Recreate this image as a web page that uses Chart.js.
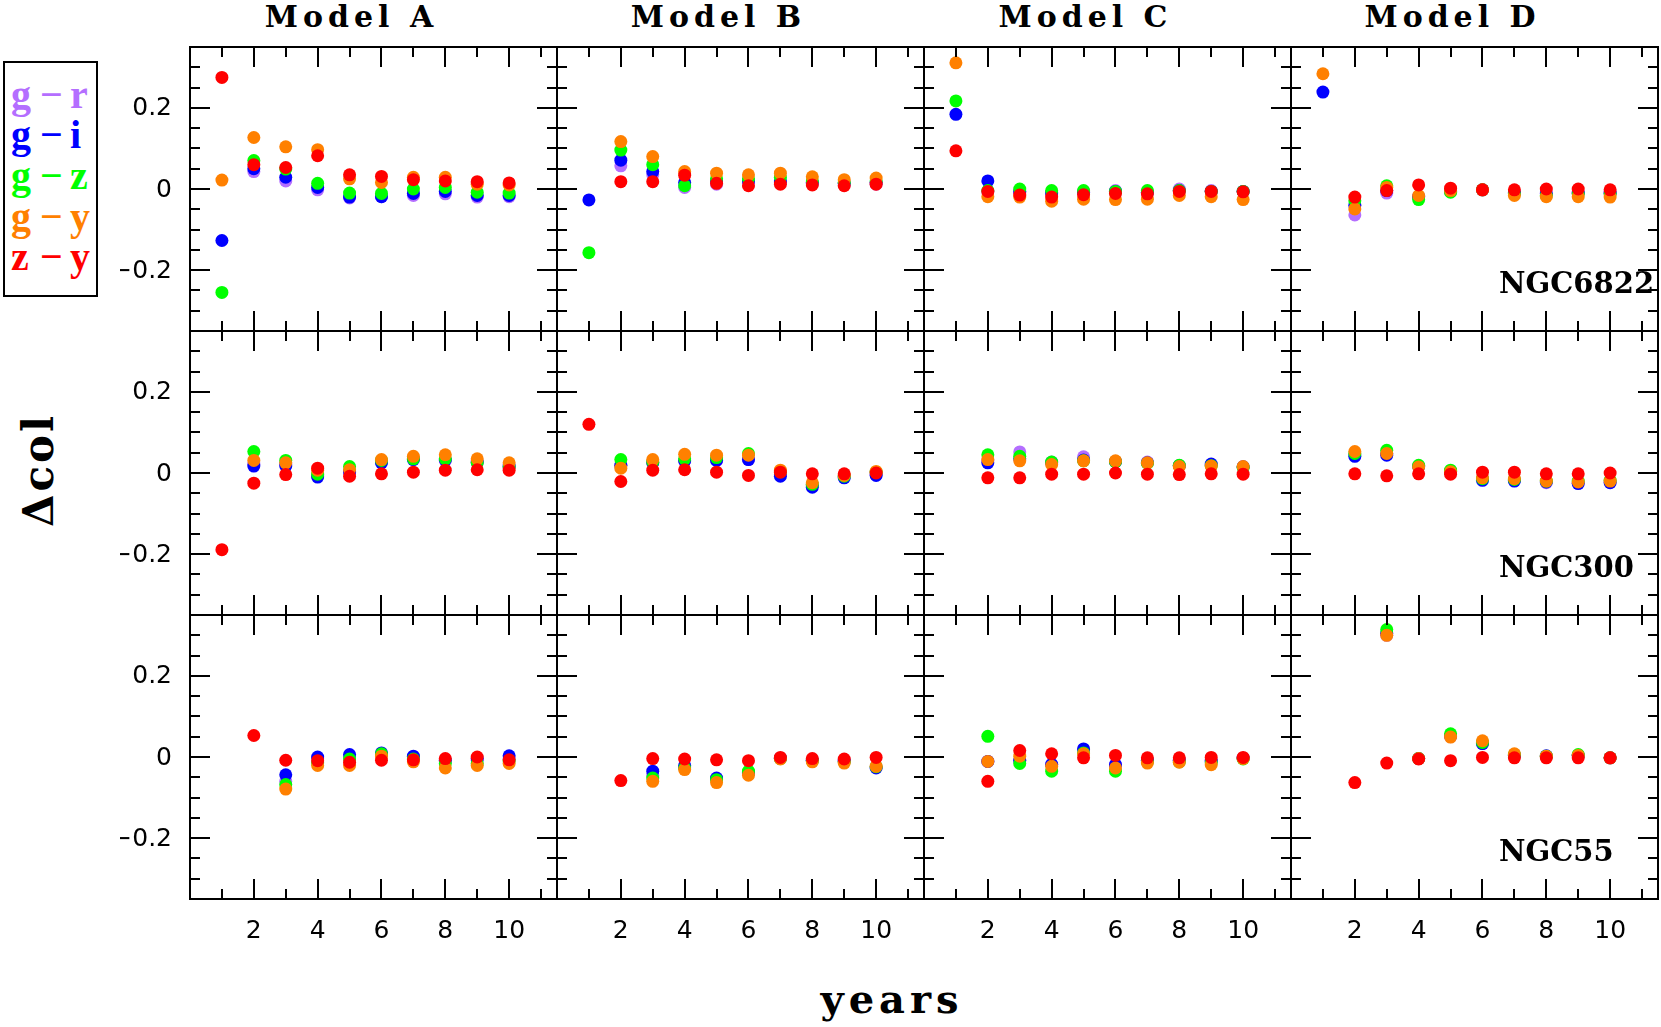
<!DOCTYPE html>
<html>
<head>
<meta charset="utf-8">
<script src="https://cdn.jsdelivr.net/npm/chart.js@4.4.1/dist/chart.umd.min.js"></script>
<style>
  html, body { margin: 0; padding: 0; background: #fff; overflow: hidden; }
  #figure { position: relative; width: 1661px; height: 1027px; background: #fff; }
  #figure canvas { position: absolute; }
  .txt { position: absolute; height: 0; white-space: nowrap; color: #000; }
  .title { font: bold 30px "DejaVu Serif"; line-height: 0; letter-spacing: 5px; width: 300px; text-align: center; }
  #ylabel { position: absolute; left: 38px; top: 470px; font: bold 42px "DejaVu Serif"; letter-spacing: 3px;
            transform: translate(-50%, -50%) rotate(-90deg); white-space: nowrap; }
  #xlabel { font: bold 40px "DejaVu Serif"; line-height: 0; letter-spacing: 5px; width: 400px; text-align: center; }
  #legend { position: absolute; left: 3px; top: 61px; width: 95px; height: 236px; border: 2px solid #000; box-sizing: border-box; }
  .leg { font: bold 40px "Liberation Serif"; line-height: 0; }
</style>
</head>
<body>
<div id="figure"></div>
<script>
const years = [1, 2, 3, 4, 5, 6, 7, 8, 9, 10];
const models = ['Model A', 'Model B', 'Model C', 'Model D'];
const galaxies = ['NGC6822', 'NGC300', 'NGC55'];
const colourNames = [['g', 'r'], ['g', 'i'], ['g', 'z'], ['g', 'y'], ['z', 'y']];
const colours = ['#b46eff', '#0000ff', '#00ff00', '#ff8000', '#ff0000'];
const yTickValues = [-0.2, 0, 0.2];
const yTickLabels = ['\u22120.2', '0', '0.2'];
const xTickValues = [2, 4, 6, 8, 10];
const xTickLabels = ['2', '4', '6', '8', '10'];

// each array: one row per model (A, B, C, D), one value per year
const gr_NGC6822 = [
  [null, 0.043, 0.020, -0.002, -0.022, -0.019, -0.016, -0.012, -0.020, -0.019],
  [null, 0.057, 0.035, 0.004, 0.012, 0.014, 0.016, 0.014, 0.010, 0.012],
  [null, -0.006, -0.008, -0.012, -0.006, -0.004, -0.008, 0.000, -0.004, -0.006],
  [null, -0.064, -0.010, -0.018, -0.006, -0.002, -0.010, -0.010, -0.010, -0.010]
];
const gi_NGC6822 = [
  [-0.127, 0.050, 0.029, 0.004, -0.020, -0.019, -0.011, -0.006, -0.016, -0.016],
  [-0.027, 0.071, 0.043, 0.016, 0.020, 0.020, 0.020, 0.016, 0.014, 0.016],
  [0.184, 0.020, -0.006, -0.010, -0.008, -0.006, -0.008, -0.004, -0.006, -0.006],
  [0.239, -0.040, -0.004, -0.020, -0.006, -0.002, -0.010, -0.012, -0.010, -0.010]
];
const gz_NGC6822 = [
  [-0.255, 0.070, 0.049, 0.014, -0.010, -0.011, 0.000, 0.004, -0.008, -0.010],
  [-0.157, 0.096, 0.060, 0.008, 0.025, 0.025, 0.029, 0.020, 0.016, 0.020],
  [0.217, -0.004, 0.000, -0.004, -0.004, -0.006, -0.004, -0.004, -0.006, -0.006],
  [null, -0.029, 0.008, -0.026, -0.008, -0.002, -0.012, -0.016, -0.012, -0.012]
];
const gy_NGC6822 = [
  [0.022, 0.127, 0.104, 0.097, 0.025, 0.016, 0.029, 0.029, 0.012, 0.010],
  [null, 0.117, 0.080, 0.043, 0.039, 0.035, 0.039, 0.030, 0.023, 0.027],
  [0.311, -0.019, -0.020, -0.030, -0.025, -0.026, -0.025, -0.016, -0.019, -0.026],
  [0.284, -0.049, 0.004, -0.016, -0.004, -0.002, -0.016, -0.019, -0.019, -0.020]
];
const zy_NGC6822 = [
  [0.275, 0.060, 0.053, 0.082, 0.035, 0.031, 0.023, 0.020, 0.018, 0.015],
  [null, 0.018, 0.018, 0.034, 0.014, 0.008, 0.012, 0.010, 0.008, 0.012],
  [0.094, -0.006, -0.015, -0.020, -0.014, -0.011, -0.012, -0.006, -0.006, -0.007],
  [null, -0.020, -0.004, 0.010, 0.002, -0.002, -0.002, 0.000, 0.000, -0.002]
];

const gr_NGC300 = [
  [null, 0.022, 0.022, -0.006, 0.002, 0.027, 0.035, 0.030, 0.025, 0.015],
  [null, 0.019, 0.025, 0.030, 0.031, 0.033, -0.004, -0.030, -0.010, -0.004],
  [null, 0.031, 0.052, 0.027, 0.040, 0.028, 0.027, 0.018, 0.020, 0.016],
  [null, 0.045, 0.048, 0.017, 0.004, -0.015, -0.018, -0.024, -0.024, -0.022]
];
const gi_NGC300 = [
  [null, 0.017, 0.017, -0.010, 0.003, 0.025, 0.033, 0.032, 0.027, 0.017],
  [null, 0.019, 0.025, 0.030, 0.031, 0.033, -0.008, -0.035, -0.012, -0.006],
  [null, 0.025, 0.035, 0.025, 0.032, 0.028, 0.025, 0.018, 0.022, 0.015],
  [null, 0.041, 0.044, 0.016, 0.004, -0.018, -0.020, -0.022, -0.026, -0.024]
];
const gz_NGC300 = [
  [null, 0.053, 0.031, -0.003, 0.016, 0.031, 0.035, 0.035, 0.025, 0.015],
  [null, 0.033, 0.027, 0.035, 0.038, 0.048, 0.003, -0.028, -0.008, 0.002],
  [null, 0.045, 0.041, 0.027, 0.030, 0.028, 0.024, 0.019, 0.018, 0.014],
  [null, 0.048, 0.056, 0.019, 0.007, -0.014, -0.016, -0.020, -0.020, -0.018]
];
const gy_NGC300 = [
  [null, 0.031, 0.025, 0.007, 0.008, 0.033, 0.041, 0.045, 0.035, 0.025],
  [null, 0.012, 0.033, 0.046, 0.044, 0.044, 0.007, -0.024, -0.006, 0.004],
  [null, 0.033, 0.030, 0.021, 0.030, 0.030, 0.025, 0.016, 0.017, 0.016],
  [null, 0.053, 0.048, 0.015, 0.003, -0.012, -0.014, -0.020, -0.022, -0.020]
];
const zy_NGC300 = [
  [-0.189, -0.025, -0.004, 0.012, -0.008, -0.002, 0.002, 0.007, 0.008, 0.007],
  [0.120, -0.021, 0.007, 0.008, 0.002, -0.006, 0.002, -0.002, -0.002, 0.000],
  [null, -0.012, -0.012, -0.003, -0.003, 0.000, -0.003, -0.004, -0.002, -0.003],
  [null, -0.002, -0.007, -0.002, -0.003, 0.002, 0.002, -0.002, -0.002, 0.000]
];

const gr_NGC55 = [
  [null, null, -0.060, -0.005, 0.000, 0.006, 0.000, -0.012, -0.008, -0.004],
  [null, null, -0.045, -0.024, -0.054, -0.040, -0.003, -0.008, -0.010, -0.024],
  [null, -0.011, -0.010, -0.020, 0.018, -0.020, -0.008, -0.008, -0.010, -0.003],
  [null, null, 0.300, -0.004, 0.050, 0.033, 0.004, 0.002, 0.004, -0.002]
];
const gi_NGC55 = [
  [null, null, -0.044, 0.000, 0.006, 0.010, 0.002, -0.008, -0.004, 0.003],
  [null, null, -0.035, -0.021, -0.052, -0.038, -0.003, -0.008, -0.010, -0.027],
  [null, -0.011, -0.008, -0.018, 0.020, -0.019, -0.008, -0.008, -0.010, -0.003],
  [null, null, 0.305, -0.004, 0.052, 0.033, 0.004, 0.003, 0.004, -0.002]
];
const gz_NGC55 = [
  [null, null, -0.068, -0.015, -0.005, 0.008, -0.005, -0.016, -0.016, -0.010],
  [null, null, -0.052, -0.027, -0.056, -0.035, -0.004, -0.010, -0.012, -0.024],
  [null, 0.051, -0.016, -0.035, 0.010, -0.035, -0.012, -0.012, -0.014, -0.005],
  [null, null, 0.314, -0.004, 0.057, 0.036, 0.006, 0.002, 0.006, -0.002]
];
const gy_NGC55 = [
  [null, null, -0.079, -0.021, -0.021, 0.002, -0.012, -0.027, -0.021, -0.016],
  [null, null, -0.060, -0.031, -0.063, -0.045, -0.005, -0.012, -0.015, -0.023],
  [null, -0.011, 0.002, -0.023, 0.008, -0.027, -0.015, -0.013, -0.019, -0.004],
  [null, null, 0.300, -0.004, 0.049, 0.040, 0.008, 0.002, 0.004, -0.002]
];
const zy_NGC55 = [
  [null, 0.053, -0.008, -0.009, -0.013, -0.008, -0.007, -0.004, 0.000, -0.007],
  [null, -0.058, -0.004, -0.005, -0.007, -0.009, -0.001, -0.004, -0.005, -0.001],
  [null, -0.060, 0.016, 0.008, -0.002, 0.004, -0.002, -0.002, -0.001, -0.001],
  [null, -0.063, -0.015, -0.005, -0.009, -0.001, -0.002, -0.002, -0.002, -0.002]
];

const seriesByGalaxy = [
  [gr_NGC6822, gi_NGC6822, gz_NGC6822, gy_NGC6822, zy_NGC6822],
  [gr_NGC300, gi_NGC300, gz_NGC300, gy_NGC300, zy_NGC300],
  [gr_NGC55, gi_NGC55, gz_NGC55, gy_NGC55, zy_NGC55]
];

// page layout (px)
const PANEL_LEFT = 190, PANEL_TOP = 47, PANEL_W = 367, PANEL_H = 284, M = 70;
const fig = document.getElementById('figure');

// frame with inward ticks on all four sides, plus tick labels on the outer panels
const framePlugin = {
  id: 'frame',
  afterDatasetsDraw(chart, args, opts) {
    const { ctx, chartArea: a, scales: { x, y } } = chart;
    ctx.save();
    ctx.strokeStyle = '#000';
    ctx.lineWidth = 2;
    ctx.strokeRect(a.left, a.top, a.right - a.left, a.bottom - a.top);
    ctx.beginPath();
    for (let k = 1; k <= 11; k++) {
      const px = Math.round(x.getPixelForValue(k));
      const len = k % 2 === 0 ? 20 : 10;
      ctx.moveTo(px, a.bottom); ctx.lineTo(px, a.bottom - len);
      ctx.moveTo(px, a.top); ctx.lineTo(px, a.top + len);
    }
    for (let k = -6; k <= 6; k++) {
      const py = Math.round(y.getPixelForValue(k * 0.05));
      const len = k % 4 === 0 ? 20 : 10;
      ctx.moveTo(a.left, py); ctx.lineTo(a.left + len, py);
      ctx.moveTo(a.right, py); ctx.lineTo(a.right - len, py);
    }
    ctx.stroke();

    ctx.fillStyle = '#000';
    ctx.font = '25px "DejaVu Sans"';
    if (opts.col === 0) {
      ctx.textAlign = 'right';
      ctx.textBaseline = 'middle';
      yTickValues.forEach((v, i) => ctx.fillText(yTickLabels[i], a.left - 18, y.getPixelForValue(v) + 1));
    }
    if (opts.row === 2) {
      ctx.textAlign = 'center';
      ctx.textBaseline = 'alphabetic';
      xTickValues.forEach((v, i) => ctx.fillText(xTickLabels[i], x.getPixelForValue(v), a.bottom + 39));
    }
    if (opts.galaxy) {
      ctx.font = 'bold 29px "DejaVu Serif"';
      ctx.textAlign = 'left';
      ctx.textBaseline = 'alphabetic';
      ctx.fillText(opts.galaxy, a.left + 208, a.bottom - 38);
    }
    ctx.restore();
  }
};

function addText(cls, text, left, top) {
  const d = document.createElement('div');
  d.className = 'txt ' + cls;
  d.textContent = text;
  d.style.left = left + 'px';
  d.style.top = top + 'px';
  fig.appendChild(d);
  return d;
}

// column titles (baseline at y = 27)
models.forEach((m, c) => {
  const cx = PANEL_LEFT + c * PANEL_W + PANEL_W / 2 - 22;
  addText('title', m, cx - 150, 27 - 0.346 * 30);
});

// axis titles
const yl = document.createElement('div');
yl.id = 'ylabel';
yl.textContent = '\u0394col';
fig.appendChild(yl);
addText('', 'years', 892 - 200, 1013 - 0.346 * 40).id = 'xlabel';

// legend
const legend = document.createElement('div');
legend.id = 'legend';
fig.appendChild(legend);
const legendBaselines = [108, 148, 189, 230, 270];
colourNames.forEach((pair, i) => {
  const top = legendBaselines[i] - 61 - 2 - 0.3375 * 40;
  [[pair[0], 6], ['\u2212', 35], [pair[1], 65]].forEach(([t, left]) => {
    const s = addText('leg', t, left, top);
    s.style.color = colours[i];
    legend.appendChild(s);
  });
});

// the 12 panels
galaxies.forEach((gal, r) => {
  models.forEach((m, c) => {
    const cv = document.createElement('canvas');
    cv.width = PANEL_W + 2 * M;
    cv.height = PANEL_H + 2 * M;
    cv.style.left = (PANEL_LEFT + c * PANEL_W - M) + 'px';
    cv.style.top = (PANEL_TOP + r * PANEL_H - M) + 'px';
    fig.appendChild(cv);

    const datasets = seriesByGalaxy[r].map((rows, k) => ({
      label: colourNames[k].join('\u2212'),
      data: years.map((yr, i) => ({ x: yr, y: rows[c][i] })).filter(p => p.y !== null),
      backgroundColor: colours[k],
      borderWidth: 0,
      pointRadius: 6.5,
      order: 4 - k,
      clip: false
    }));

    new Chart(cv.getContext('2d'), {
      type: 'scatter',
      data: { datasets },
      options: {
        responsive: false,
        animation: false,
        events: [],
        layout: { padding: M },
        plugins: {
          legend: { display: false },
          tooltip: { enabled: false },
          frame: { col: c, row: r, galaxy: c === 3 ? gal : null }
        },
        scales: {
          x: { type: 'linear', min: 0, max: 11.5, display: false },
          y: { type: 'linear', min: -0.35, max: 0.35, display: false }
        }
      },
      plugins: [framePlugin]
    });
  });
});
</script>
</body>
</html>
